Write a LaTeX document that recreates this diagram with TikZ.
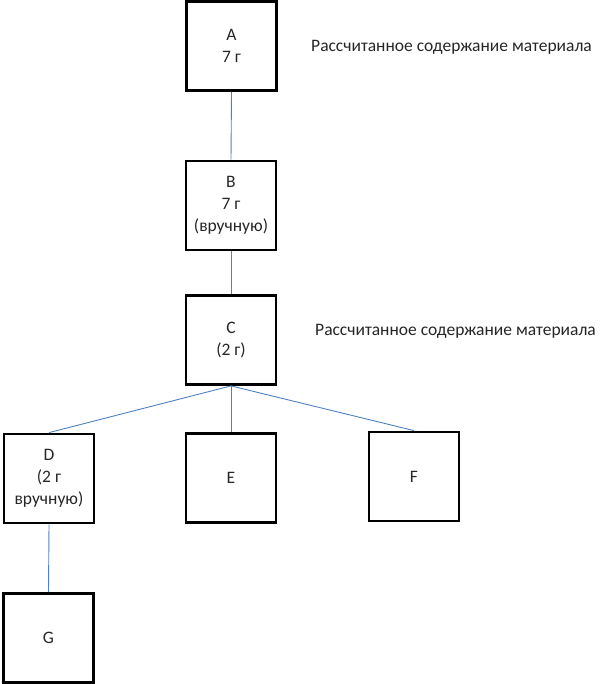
\documentclass[tikz,border=0pt]{standalone}
\usepackage{fontspec}
\setmainfont{Carlito}
\usetikzlibrary{positioning}
\definecolor{linkblue}{HTML}{4F81BD}
\definecolor{inktext}{HTML}{262626}

\begin{document}
\begin{tikzpicture}[x=1pt, y=-1pt,
    itembox/.style={draw=black, line width=2.8pt, minimum width=90pt, minimum height=89pt,
      font=\fontsize{17.5}{22}\selectfont, text=inktext, align=center, inner sep=0pt},
    link/.style={draw=linkblue, line width=0.9pt},
    note/.style={font=\fontsize{17.5}{20}\selectfont, text=inktext, anchor=west, inner sep=0pt}]
  \useasboundingbox (0,0) rectangle (611,684);

  % Boxes of the tree
  \node[itembox] (a) at (231.5,46) {A\\7 г};
  \node[itembox] (b) at (231,205.5) {B\\7 г\\(вручную)};
  \node[itembox] (c) at (231,340) {C\\(2 г)};
  \node[itembox] (d) at (49,478.5) {D\\(2 г\\вручную)};
  \node[itembox] (e) at (231,478) {E};
  \node[itembox] (f) at (414,476.5) {F};
  \node[itembox] (g) at (48.5,638) {G};

  % Connectors
  \draw[link] (a.south) -- (b.north);
  \draw[link] (b.south) -- (c.north);
  \draw[link] (c.south) -- (d.north);
  \draw[link] (c.south) -- (e.north);
  \draw[link] (c.south) -- (f.north);
  \draw[link] (d.south) -- (g.north);

  % Side notes
  \node[note] (notea) at (311,47) {Рассчитанное содержание материала};
  \node[note] (notec) at (315,331) {Рассчитанное содержание материала};
\end{tikzpicture}
\end{document}
